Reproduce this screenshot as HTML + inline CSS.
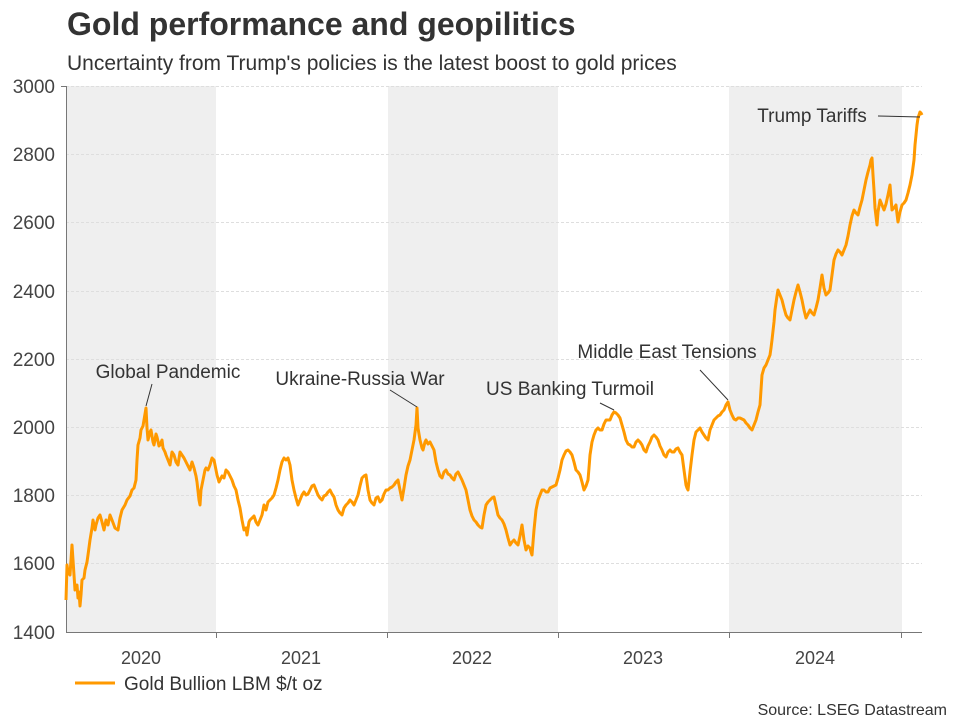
<!DOCTYPE html><html><head><meta charset="utf-8"><style>body{margin:0;background:#fff}svg{display:block;font-family:"Liberation Sans",Arial,sans-serif}</style></head><body>
<svg width="960" height="720" viewBox="0 0 960 720">
<rect x="67" y="86" width="149" height="546" fill="#efefef"/>
<rect x="388" y="86" width="170" height="546" fill="#efefef"/>
<rect x="729" y="86" width="173" height="546" fill="#efefef"/>
<g stroke="#dedede" stroke-dasharray="3,2" stroke-width="1">
<line x1="66" x2="922" y1="86.5" y2="86.5"/><line x1="66" x2="922" y1="154.5" y2="154.5"/><line x1="66" x2="922" y1="222.5" y2="222.5"/><line x1="66" x2="922" y1="291.5" y2="291.5"/><line x1="66" x2="922" y1="359.5" y2="359.5"/><line x1="66" x2="922" y1="427.5" y2="427.5"/><line x1="66" x2="922" y1="495.5" y2="495.5"/><line x1="66" x2="922" y1="563.5" y2="563.5"/></g>
<g stroke="#777" stroke-width="1"><line x1="66.5" y1="86" x2="66.5" y2="632"/><line x1="66" y1="632.5" x2="922" y2="632.5"/><line x1="61" x2="66" y1="86.5" y2="86.5"/>
<line x1="216.5" x2="216.5" y1="632" y2="638"/><line x1="387.5" x2="387.5" y1="632" y2="638"/><line x1="558.5" x2="558.5" y1="632" y2="638"/><line x1="729.5" x2="729.5" y1="632" y2="638"/><line x1="901.5" x2="901.5" y1="632" y2="638"/></g>
<g font-size="19" fill="#444" text-anchor="end"><text x="55" y="93">3000</text><text x="55" y="161">2800</text><text x="55" y="229">2600</text><text x="55" y="298">2400</text><text x="55" y="366">2200</text><text x="55" y="434">2000</text><text x="55" y="502">1800</text><text x="55" y="570">1600</text><text x="55" y="639">1400</text></g>
<g font-size="18" fill="#444" text-anchor="middle"><text x="141" y="664">2020</text><text x="301" y="664">2021</text><text x="472" y="664">2022</text><text x="643" y="664">2023</text><text x="815" y="664">2024</text></g>
<text x="67" y="35" font-size="32" font-weight="bold" fill="#333">Gold performance and geopilitics</text>
<text x="67" y="70" font-size="21" fill="#333">Uncertainty from Trump's policies is the latest boost to gold prices</text>
<polyline fill="none" stroke="#ff9900" stroke-width="3" stroke-linejoin="round" points="66,600 67,565 68,572 70,575 71,560 72,545 74,575 75,590 77,585 78,598 79,592 80,606 81,595 82,580 84,578 85,570 87,562 88,555 90,540 92,528 93,520 95,530 96,525 98,518 100,515 102,522 104,530 106,520 108,525 110,515 112,520 115,528 118,530 120,518 122,510 125,505 127,500 130,496 132,490 134,488 136,480 137,460 138,445 140,438 141,430 143,426 144,420 145,414 146,408 147,428 148,440 150,432 151,430 153,442 154,445 156,434 157,437 159,446 160,445 162,440 163,448 165,452 166,455 168,460 170,465 172,452 174,455 176,462 178,465 180,452 182,455 184,458 186,462 188,466 190,470 192,462 194,468 196,476 197,482 199,500 200,505 201,490 203,480 205,470 206,468 208,470 210,465 212,458 214,460 216,470 217,475 219,482 220,480 222,476 224,478 226,470 228,472 230,476 232,480 234,486 236,490 238,500 240,508 242,520 244,530 246,528 247,535 249,522 250,520 252,518 254,516 256,522 258,525 260,520 262,515 264,505 266,510 268,502 270,500 272,498 274,495 276,488 278,480 280,470 282,462 284,458 286,460 288,458 290,465 292,480 294,490 296,498 298,505 300,500 302,495 304,492 306,495 308,494 310,490 312,486 314,485 316,490 318,495 320,498 322,500 324,496 326,495 328,492 330,490 332,494 334,497 336,505 338,510 340,513 342,515 344,508 346,505 348,503 350,500 352,502 354,505 356,500 358,495 360,486 362,478 364,476 366,475 368,490 370,500 372,503 374,505 376,498 378,497 380,502 382,500 384,494 386,490 388,490 390,488 392,487 394,485 396,482 398,480 400,490 402,500 404,488 406,475 408,466 410,460 412,450 414,440 416,425 417,408 418,428 420,440 422,448 423,450 425,442 426,440 428,444 430,442 432,446 434,450 436,462 438,470 440,476 442,478 444,472 446,470 448,474 450,475 452,478 454,480 456,474 458,472 460,476 462,480 464,485 466,490 468,500 470,510 472,516 474,520 476,522 478,525 480,527 482,528 484,515 486,505 488,502 490,500 492,498 494,497 496,506 498,515 500,518 502,520 504,524 506,530 508,538 510,545 512,542 514,540 516,543 518,545 520,536 522,525 524,540 526,550 528,546 530,548 531,552 532,555 534,530 536,510 538,500 540,495 542,490 544,490 546,492 548,492 550,488 552,487 554,486 556,485 558,478 560,470 562,460 564,455 566,451 568,450 570,452 572,455 574,462 576,470 578,472 580,475 582,482 584,490 586,486 588,480 589,468 590,455 592,442 594,435 596,430 598,428 600,430 602,430 604,424 606,420 608,420 610,420 612,415 614,412 616,413 618,415 620,418 622,425 624,432 626,440 628,444 630,445 632,447 634,447 636,442 638,440 640,442 642,445 644,450 646,452 648,446 650,442 652,437 654,435 656,437 658,440 660,446 662,450 664,455 666,457 668,452 670,450 672,452 674,452 676,449 678,448 680,452 682,455 684,470 686,485 687,488 688,490 690,472 692,455 694,440 696,432 698,430 700,428 702,432 704,435 706,438 708,440 710,430 712,425 714,420 716,418 718,416 720,415 722,412 724,410 726,405 728,402 730,410 732,415 734,419 736,420 738,418 740,418 742,419 744,420 746,423 748,425 750,428 752,430 754,425 756,420 758,412 760,405 761,390 762,375 764,368 766,365 768,360 770,355 771,348 772,340 774,322 775,310 777,296 778,290 780,295 782,300 784,308 786,315 788,318 790,320 792,310 794,300 796,292 798,285 800,292 802,300 804,310 806,318 808,314 810,310 812,313 814,315 816,308 818,300 820,288 822,275 824,288 826,295 828,293 830,290 832,275 834,260 836,254 838,250 840,252 842,255 844,250 846,245 848,236 850,225 852,216 854,210 856,213 858,215 860,207 862,200 864,190 866,180 868,172 870,165 871,160 872,158 873,175 874,190 875,208 877,225 878,212 880,200 882,205 884,210 886,204 888,195 889,190 890,185 891,198 892,210 894,208 896,205 897,214 898,222 900,212 902,205 904,203 906,200 908,193 910,185 912,175 914,160 915,145 917,125 918,118 920,112 921,113 922,115"/>
<g stroke="#333" stroke-width="1"><line x1="878" y1="116" x2="920" y2="117"/><line x1="700" y1="370" x2="728" y2="400"/><line x1="600" y1="403" x2="614" y2="410"/><line x1="390" y1="390" x2="417" y2="407"/><line x1="152" y1="384" x2="146" y2="406"/></g>
<g font-size="19" fill="#333" text-anchor="middle"><text x="812" y="122">Trump Tariffs</text><text x="667" y="358">Middle East Tensions</text><text x="570" y="395">US Banking Turmoil</text><text x="360" y="385">Ukraine-Russia War</text><text x="168" y="378">Global Pandemic</text></g>
<line x1="75" x2="115" y1="683" y2="683" stroke="#ff9900" stroke-width="3"/>
<text x="124" y="690" font-size="19" fill="#333">Gold Bullion LBM $/t oz</text>
<text x="947" y="715" font-size="16" fill="#333" text-anchor="end">Source: LSEG Datastream</text>
</svg></body></html>
